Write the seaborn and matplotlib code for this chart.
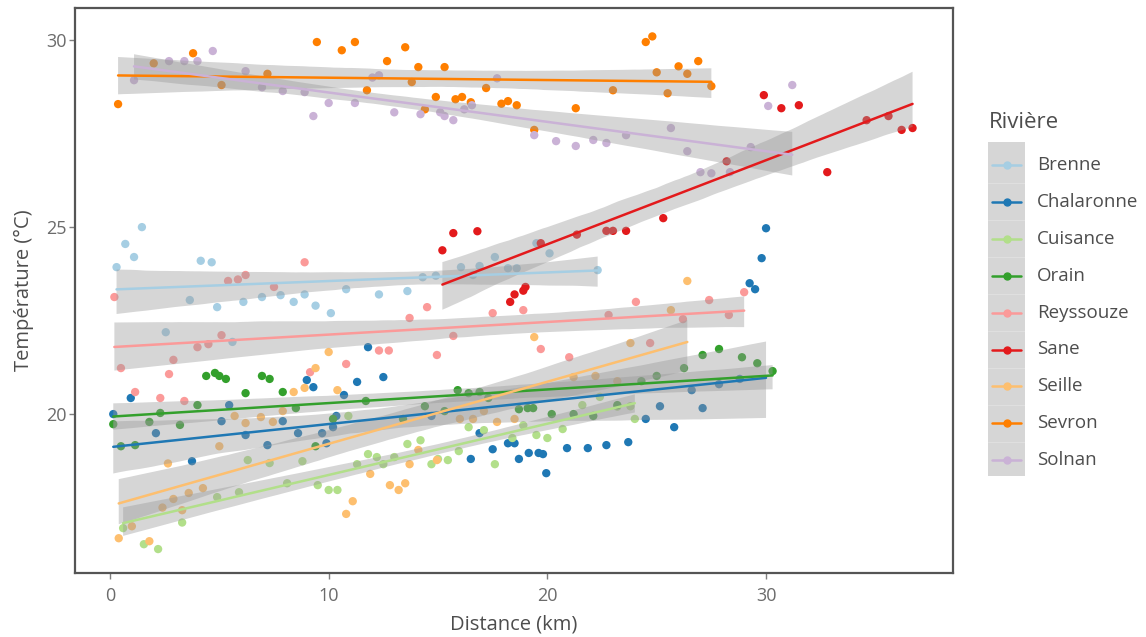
import pandas as pd
import seaborn as sns
import numpy as np
import matplotlib.pyplot as plt
from matplotlib.lines import Line2D
from matplotlib.patches import Rectangle
from matplotlib.collections import PolyCollection

# Data (distance km, temperature °C)
rivers = ['Brenne', 'Chalaronne', 'Cuisance', 'Orain', 'Reyssouze',
          'Sane', 'Seille', 'Sevron', 'Solnan']
colors = ['#a6cee3', '#1f78b4', '#b2df8a', '#33a02c', '#fb9a99',
          '#e31a1c', '#fdbf6f', '#ff7f00', '#cab2d6']

dist_brenne = [0.3, 0.7, 1.1, 1.46, 4.15, 4.65, 2.55, 3.65, 4.9, 5.6, 6.1, 6.95, 7.8, 8.4, 8.9,
               9.4, 10.1, 10.8, 12.3, 13.6, 14.3, 14.9, 16.05, 16.6, 16.9, 17.6, 18.2, 18.6,
               19.5, 20.1, 22.3]
temp_brenne = [23.93, 24.55, 24.2, 25.0, 24.1, 24.06, 22.19, 23.05, 22.86, 21.93, 23.0, 23.13,
               23.18, 23.0, 23.2, 22.9, 22.7, 23.34, 23.2, 23.29, 23.66, 23.7, 23.93, 23.72,
               23.96, 24.2, 23.9, 23.9, 24.57, 24.3, 23.85]

dist_chalaronne = [0.15, 0.95, 2.1, 3.75, 5.1, 5.45, 6.2, 7.2, 7.9, 8.6, 9.0, 9.3, 9.7, 9.9,
                   10.2, 10.35, 10.7, 11.3, 11.8, 12.5, 14.7, 16.5, 16.9, 17.5, 18.2, 18.5,
                   18.7, 19.15, 19.6, 19.8, 19.95, 20.9, 21.85, 22.7, 23.7, 24.5, 25.15, 25.8,
                   26.6, 27.1, 27.85, 28.8, 29.25, 29.5, 29.8, 30.0]
temp_chalaronne = [20.0, 20.43, 19.49, 18.74, 19.81, 20.24, 19.44, 19.17, 19.81, 19.49, 20.91,
                   20.72, 19.49, 19.22, 19.65, 19.95, 20.51, 20.86, 21.79, 20.99, 19.95, 18.8,
                   19.49, 19.06, 19.22, 19.22, 18.8, 18.96, 18.96, 18.93, 18.42, 19.09, 19.09,
                   19.17, 19.25, 19.87, 20.21, 19.65, 20.64, 20.16, 20.8, 20.94, 23.5, 23.34,
                   24.17, 24.97]

dist_cuisance = [0.6, 1.55, 2.2, 3.3, 4.9, 5.9, 6.3, 7.3, 8.1, 8.8, 9.5, 10.0, 10.4, 10.9, 11.3,
                 11.8, 12.2, 12.5, 13.0, 13.6, 14.2, 14.7, 15.0, 15.45, 15.95, 16.4, 17.1, 17.6,
                 18.4, 18.9, 19.5, 20.0, 20.7, 21.6, 22.4, 23.2, 23.8, 24.0]
temp_cuisance = [16.95, 16.52, 16.39, 17.1, 17.78, 17.91, 18.77, 18.69, 18.15, 18.74, 18.1,
                 17.97, 17.97, 19.95, 18.66, 18.93, 18.85, 18.66, 18.85, 19.2, 19.3, 18.66,
                 18.8, 18.77, 19.01, 19.65, 19.57, 18.66, 19.36, 19.7, 19.44, 19.36, 19.6,
                 20.24, 20.46, 20.2, 20.21, 19.87]

dist_orain = [0.15, 0.5, 1.15, 1.8, 2.3, 3.2, 4.0, 4.4, 4.8, 5.0, 5.3, 6.2, 6.95, 7.3, 7.9, 8.5,
              9.4, 10.2, 11.7, 13.4, 14.4, 15.3, 15.9, 16.4, 16.9, 17.3, 18.7, 19.1, 19.35, 20.2,
              21.2, 22.1, 23.2, 24.3, 25.0, 26.25, 27.1, 27.85, 28.9, 29.6, 30.3]
temp_orain = [19.73, 19.14, 19.17, 19.79, 20.03, 19.71, 20.24, 21.02, 21.1, 21.02, 20.94, 20.56,
              21.02, 20.94, 20.59, 20.16, 19.14, 19.87, 20.35, 19.87, 20.21, 20.08, 20.64, 20.56,
              20.59, 20.43, 20.13, 20.16, 20.16, 20.0, 20.0, 19.95, 20.24, 20.88, 21.02, 21.23,
              21.58, 21.74, 21.52, 21.36, 21.15]

dist_reyssouze = [0.2, 0.5, 1.15, 2.7, 2.9, 2.3, 3.4, 4.0, 4.5, 5.1, 5.4, 5.85, 6.2, 7.5, 8.9,
                  9.15, 10.8, 12.3, 12.75, 13.7, 14.5, 14.95, 15.7, 17.5, 18.9, 19.7, 21.0,
                  22.8, 24.05, 24.7, 26.2, 27.4, 28.3, 29.0]
temp_reyssouze = [23.13, 21.23, 20.59, 21.07, 21.45, 20.43, 20.35, 21.79, 21.87, 22.11, 23.56,
                  23.6, 23.72, 23.4, 24.06, 21.12, 21.34, 21.7, 21.7, 22.57, 22.86, 21.58,
                  22.09, 22.7, 22.78, 21.74, 21.52, 22.65, 23.0, 21.9, 22.54, 23.05, 22.65,
                  23.26]

dist_sane = [15.2, 15.7, 16.8, 18.3, 18.5, 18.9, 19.0, 19.7, 21.35, 22.7, 23.0, 23.6, 25.3,
             28.2, 29.9, 30.7, 31.5, 32.8, 34.6, 35.6, 36.2, 36.7]
temp_sane = [24.38, 24.84, 24.89, 23.0, 23.2, 23.3, 23.4, 24.57, 24.8, 24.9, 24.9, 24.9, 25.24,
             26.76, 28.53, 28.18, 28.26, 26.47, 27.86, 27.97, 27.6, 27.65]

dist_seille = [0.4, 1.0, 1.8, 2.4, 2.9, 3.3, 3.6, 4.25, 5.0, 2.65, 5.7, 6.2, 6.9, 7.45, 7.9, 8.4,
               8.9, 9.4, 10.0, 10.4, 10.8, 11.1, 11.9, 12.8, 13.2, 13.5, 13.7, 14.1, 14.95,
               16.0, 16.6, 17.1, 17.7, 18.5, 19.4, 21.2, 22.2, 23.2, 23.8, 25.65, 26.4]
temp_seille = [16.68, 17.0, 16.6, 17.5, 17.73, 17.43, 17.89, 18.02, 19.14, 18.68, 19.95, 19.76,
               19.92, 19.79, 20.08, 20.59, 20.7, 21.23, 21.66, 20.64, 17.33, 17.67, 18.4, 18.1,
               17.97, 18.15, 18.66, 19.04, 18.77, 19.87, 19.87, 20.08, 19.79, 19.87, 22.06,
               20.99, 21.02, 20.88, 21.9, 22.78, 23.56]

dist_sevron = [0.37, 2.0, 3.8, 5.1, 7.2, 9.46, 10.6, 11.2, 11.75, 12.67, 13.5, 13.8, 14.1, 14.4,
               14.9, 15.3, 15.8, 16.1, 16.5, 17.2, 17.9, 18.2, 18.6, 19.4, 21.3, 23.0, 24.5,
               24.8, 25.0, 25.5, 26.0, 26.4, 26.9, 27.5]
temp_sevron = [28.29, 29.38, 29.65, 28.8, 29.1, 29.95, 29.73, 29.95, 28.66, 29.44, 29.81, 28.88,
               29.28, 28.15, 28.48, 29.28, 28.42, 28.48, 28.34, 28.72, 28.3, 28.37, 28.26, 27.6,
               28.18, 28.66, 29.95, 30.1, 29.14, 28.58, 29.3, 29.1, 29.44, 28.77]

dist_solnan = [1.1, 2.7, 3.4, 4.0, 4.7, 6.2, 6.95, 7.9, 8.9, 9.3, 10.0, 11.2, 12.0, 12.3, 13.0,
               14.2, 15.1, 15.3, 15.7, 16.2, 16.55, 17.7, 19.4, 20.4, 21.3, 22.1, 22.7, 23.6,
               25.65, 26.4, 27.0, 27.5, 28.35, 29.3, 30.1, 31.2]
temp_solnan = [28.93, 29.44, 29.44, 29.44, 29.71, 29.17, 28.74, 28.64, 28.61, 27.97, 28.32,
               28.32, 29.0, 29.06, 28.07, 28.02, 28.07, 27.97, 27.86, 28.15, 28.26, 28.98,
               27.46, 27.3, 27.17, 27.33, 27.25, 27.46, 27.65, 27.03, 26.47, 26.44, 26.47,
               27.14, 28.24, 28.8]

dists = [dist_brenne, dist_chalaronne, dist_cuisance, dist_orain, dist_reyssouze,
         dist_sane, dist_seille, dist_sevron, dist_solnan]
temps = [temp_brenne, temp_chalaronne, temp_cuisance, temp_orain, temp_reyssouze,
         temp_sane, temp_seille, temp_sevron, temp_solnan]

df = pd.concat([pd.DataFrame({'Distance': d, 'Temperature': t, 'Riviere': r})
                for d, t, r in zip(dists, temps, rivers)], ignore_index=True)
pal = dict(zip(rivers, colors))

sns.set_theme(style='white')
plt.rcParams['font.family'] = ['Open Sans', 'DejaVu Sans']

fig = plt.figure(figsize=(11.46, 6.37), dpi=100)
ax = fig.add_axes([75 / 1146, 64 / 637, 878 / 1146, 565 / 637])

# points first, smooth layers on top (as in ggplot)
sns.scatterplot(data=df, x='Distance', y='Temperature', hue='Riviere', palette=pal,
                s=36, edgecolor='none', linewidth=0, legend=False, ax=ax, zorder=2)
for r in rivers:
    sub = df[df['Riviere'] == r]
    sns.regplot(data=sub, x='Distance', y='Temperature', scatter=False, ci=95, seed=1,
                color=pal[r], line_kws={'lw': 1.8, 'zorder': 4}, ax=ax)

# grey confidence bands like geom_smooth
for coll in ax.collections:
    if isinstance(coll, PolyCollection):
        coll.set_alpha(0.4)
        coll.set_facecolor('#999999')
        coll.set_edgecolor('none')
        coll.set_zorder(3)

ax.set_xlim(-1.6, 38.55)
ax.set_ylim(15.75, 30.86)
ax.set_xticks([0, 10, 20, 30])
ax.set_yticks([20, 25, 30])
ax.set_xlabel('Distance (km)', fontsize=14.5, color='#4d4d4d', labelpad=7)
ax.set_ylabel('Température (°C)', fontsize=14.5, color='#4d4d4d', labelpad=9)
ax.tick_params(axis='x', pad=6)
ax.tick_params(axis='y', pad=2)
ax.tick_params(axis='both', which='both', direction='out', length=4, width=1,
               color='#7f7f7f', labelsize=13, labelcolor='#6b6b6b',
               bottom=True, left=True)
for sp in ax.spines.values():
    sp.set_color('#555555')
    sp.set_linewidth(1.6)

# legend drawn in figure pixels (ggplot style key with grey fill)
H = 637
fig.text(989 / 1146, 1 - 123 / H, 'Rivière', fontsize=16, color='#4d4d4d', va='center')
fig.patches.append(Rectangle((988 / 1146, 1 - 476 / H), 37 / 1146, 334 / H,
                             transform=fig.transFigure, facecolor='#d6d6d6',
                             edgecolor='none', zorder=1))
for i, (r, c) in enumerate(zip(rivers, colors)):
    yy = 1 - (165 + i * 36.9) / H
    fig.lines.append(Line2D([992 / 1146, 1021 / 1146], [yy, yy], color=c, lw=1.8,
                            transform=fig.transFigure, zorder=2))
    fig.lines.append(Line2D([1006.5 / 1146], [yy], color=c, marker='o', ms=5, lw=0,
                            transform=fig.transFigure, zorder=3))
    if i > 0:
        fig.lines.append(Line2D([988 / 1146, 1025 / 1146], [yy + 18.45 / H] * 2,
                                color='white', lw=0.5, alpha=0.35,
                                transform=fig.transFigure, zorder=2))
    fig.text(1037 / 1146, yy, r, fontsize=13.5, color='#4d4d4d', va='center')

fig.savefig('out.png', dpi=100)
